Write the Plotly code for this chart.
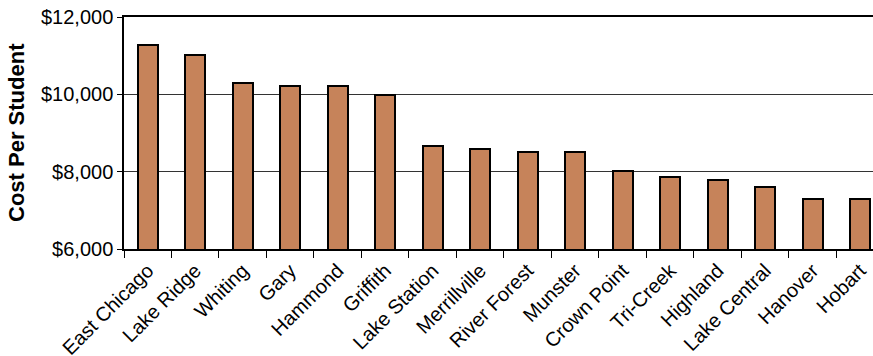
import plotly.graph_objects as go

districts = ["East Chicago", "Lake Ridge", "Whiting", "Gary", "Hammond", "Griffith",
             "Lake Station", "Merrillville", "River Forest", "Munster", "Crown Point",
             "Tri-Creek", "Highland", "Lake Central", "Hanover", "Hobart"]
cost_per_student = [11280, 11030, 10300, 10220, 10220, 9980,
                    8670, 8590, 8500, 8500, 8020,
                    7860, 7780, 7610, 7290, 7290]
y_ticks = [6000, 8000, 10000, 12000]
y_tick_labels = ["$6,000", "$8,000", "$10,000", "$12,000"]
y_title = "Cost Per Student"

fig = go.Figure(go.Bar(
    x=districts, y=cost_per_student,
    width=0.42,
    marker=dict(color="#C6835A", line=dict(color="black", width=2)),
))

font = "Liberation Sans, Arial, sans-serif"
fig.update_layout(
    width=873, height=356,
    margin=dict(l=124, r=0, t=17, b=107, autoexpand=False),
    plot_bgcolor="white", paper_bgcolor="white",
    showlegend=False,
    font=dict(family=font, color="black"),
    bargap=0,
)
fig.add_annotation(
    text="<b>" + y_title + "</b>", textangle=-90,
    xref="paper", yref="paper", x=0, y=0.5, xanchor="center", yanchor="middle",
    xshift=-108, showarrow=False,
    font=dict(size=22, family=font, color="black"),
)
fig.update_xaxes(
    range=[-0.5, 15.27],
    tickangle=-45,
    automargin=False,
    ticklabeloverflow="allow",
    tickfont=dict(size=20, family=font, color="black"),
    showline=True, linecolor="black", linewidth=2, mirror=True,
    ticks="outside", tickson="boundaries", ticklen=7, tickcolor="black", tickwidth=1,
    showgrid=False,
)
fig.update_yaxes(
    range=[6000, 12000],
    automargin=False,
    ticklabeloverflow="allow",
    tickvals=y_ticks, ticktext=y_tick_labels,
    tickfont=dict(size=20, family=font, color="black"),
    showline=True, linecolor="black", linewidth=1.5,
    ticks="outside", ticklen=5, tickcolor="black", tickwidth=1,
    showgrid=True, gridcolor="#333333", gridwidth=1,
    zeroline=False,
)
fig.write_html("out.html", config={"displayModeBar": False},
               post_script="document.body.style.margin='0';")
